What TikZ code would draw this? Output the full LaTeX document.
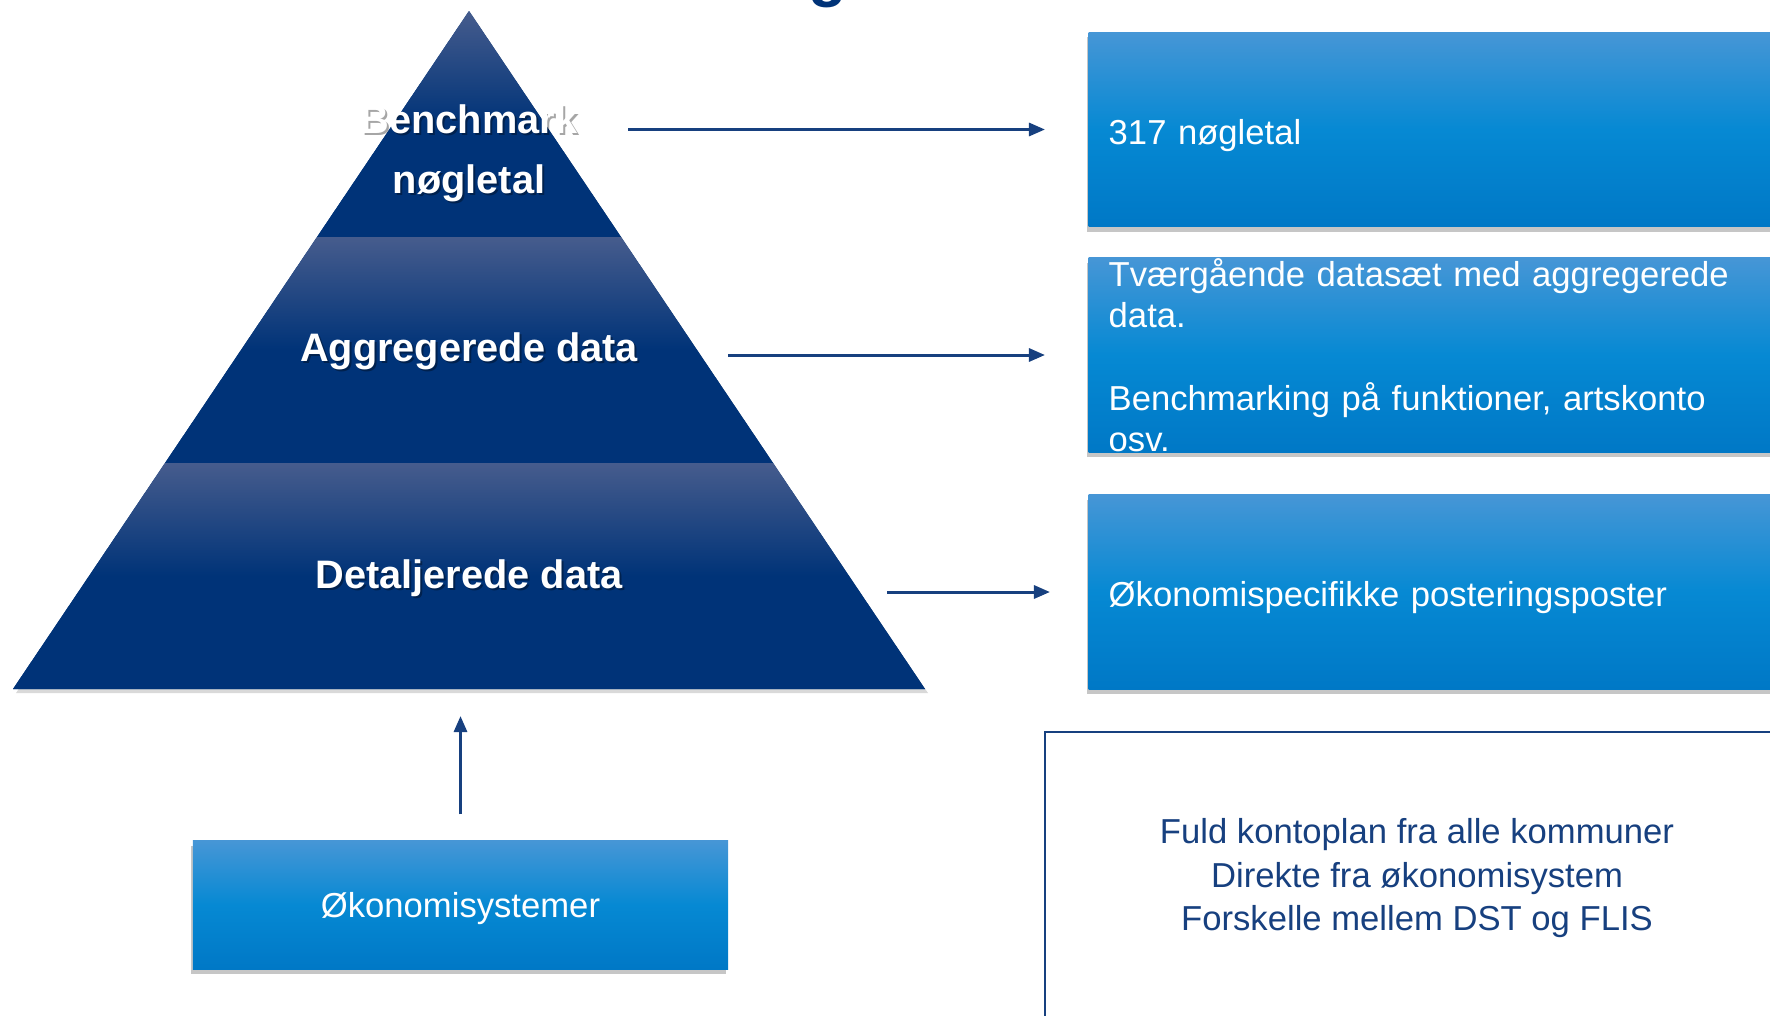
\documentclass[tikz,border=0pt]{standalone}
\usepackage{fontspec}
\setmainfont{Liberation Sans}
\usetikzlibrary{arrows.meta,shadows,calc}
\definecolor{pyrdark}{HTML}{003378}
\definecolor{pyrlight}{HTML}{465C8D}
\definecolor{paneltop}{HTML}{4696D6}
\definecolor{panelmid}{HTML}{0689D3}
\definecolor{panelbot}{HTML}{0078C6}
\definecolor{navy}{HTML}{17407F}
\tikzset{
  tier/.style={top color=pyrlight, bottom color=pyrdark, middle color=pyrdark},
  panel/.style={rectangle, inner xsep=0.2cm, inner ysep=0pt, text=white,
    top color=paneltop, bottom color=panelbot, middle color=panelmid,
    drop shadow={shadow xshift=-0.02cm, shadow yshift=-0.05cm, opacity=0.45},
    font=\fontsize{9.85pt}{11.75pt}\selectfont},
  sidepanel/.style={panel, anchor=west, align=left, text width=6.8cm, minimum height=1.94cm,
    text height=0.95em, text depth=0.11em},
  notebox/.style={rectangle, draw=navy, line width=0.02cm, text=navy, align=center,
    minimum width=7.44cm, minimum height=2.928cm,
    font=\fontsize{9.85pt}{12.4pt}\selectfont},
  tierlabel/.style={text=white, align=center, inner sep=0pt,
    font=\bfseries\fontsize{11.3pt}{17pt}\selectfont},
  tiershade/.style={tierlabel, text=black, opacity=0.35},
  flow/.style={navy, line width=0.03cm, -{Triangle[length=0.16cm,width=0.13cm]}}
}
\begin{document}
\begin{tikzpicture}[x=0.01cm, y=-0.01cm]
\useasboundingbox (0,0) rectangle (1770,1015);
\clip (0,0) rectangle (1770,1015);

\node[anchor=base west, inner sep=0pt, text=pyrdark,
  font=\bfseries\fontsize{18pt}{18pt}\selectfont] (ttl) at (808,-5) {g};

\coordinate (apex) at (469,11);
\coordinate (bl) at (13,689);
\coordinate (br) at (925,689);
\coordinate (l1) at ($(apex)!1/3!(bl)$);
\coordinate (r1) at ($(apex)!1/3!(br)$);
\coordinate (l2) at ($(apex)!2/3!(bl)$);
\coordinate (r2) at ($(apex)!2/3!(br)$);

\path[fill=pyrdark, drop shadow={shadow xshift=0.03cm, shadow yshift=-0.04cm, opacity=0.3}]
  (apex) -- (br) -- (bl) -- cycle;
\path[tier] (apex) -- (r1) -- (l1) -- cycle;
\path[tier] (l1) -- (r1) -- (r2) -- (l2) -- cycle;
\path[tier] (l2) -- (r2) -- (br) -- (bl) -- cycle;

\node[tiershade] (bm-sh) at (471,155.5) {Benchmark\\ nøgletal};
\node[tierlabel] (bm) at (469,153.5) {Benchmark\\ nøgletal};
\node[tiershade] (ag-sh) at (471,353.5) {Aggregerede data};
\node[tierlabel] (ag) at (469,351.5) {Aggregerede data};
\node[tiershade] (dt-sh) at (471,580.5) {Detaljerede data};
\node[tierlabel] (dt) at (469,578.5) {Detaljerede data};

\node[sidepanel] (kpi) at (1088,129.5) {317 nøgletal};
\node[sidepanel, text height=0pt, text depth=1.37cm] (agg) at (1088,355)
  {Tværgående datasæt med aggregerede\\ data.\\[11.75pt] Benchmarking på funktioner, artskonto\\ osv.};
\node[sidepanel] (post) at (1088,592) {Økonomispecifikke posteringsposter};

\node[panel, minimum width=5.35cm, minimum height=1.28cm,
  text height=0.85em, text depth=0.16em] (sys) at (460.5,905) {Økonomisystemer};

\node[notebox] (src) at (1417,878.4)
  {Fuld kontoplan fra alle kommuner\\ Direkte fra økonomisystem\\ Forskelle mellem DST og FLIS};

\coordinate (bm-out) at (628,129.5);
\coordinate (ag-out) at (728,355);
\coordinate (dt-out) at (887,592);
\coordinate (base) at (460.5,689);

\draw[flow, shorten >=0.43cm] (bm-out) -- (kpi.west);
\draw[flow, shorten >=0.43cm] (ag-out) -- (agg.west);
\draw[flow, shorten >=0.38cm] (dt-out) -- (post.west);
\draw[flow, shorten <=0.26cm, shorten >=0.27cm] (sys.north) -- (base);
\end{tikzpicture}
\end{document}
